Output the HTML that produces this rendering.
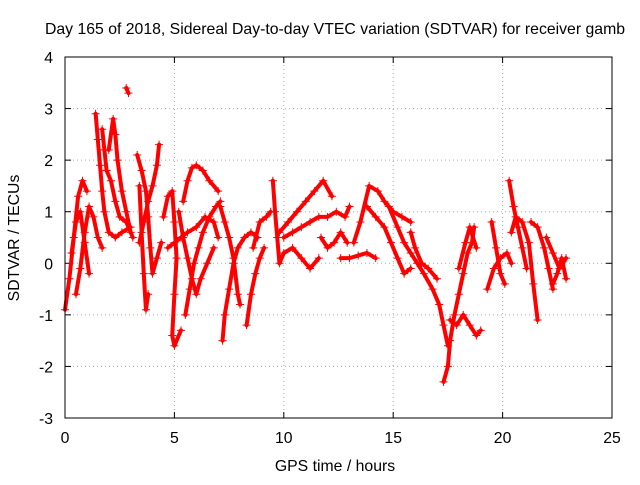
<!DOCTYPE html>
<html><head><meta charset="utf-8"><style>
body{margin:0;background:#fff;}
svg text{font-family:"Liberation Sans",sans-serif;font-size:15.8px;fill:#000;}
</style></head><body>
<svg width="640" height="480" xmlns="http://www.w3.org/2000/svg">
<rect width="640" height="480" fill="#fff"/>
<text x="335" y="34" text-anchor="middle">Day 165 of 2018, Sidereal Day-to-day VTEC variation (SDTVAR) for receiver gamb</text>
<g id="grid"></g><g id="ticks"></g><g id="marks"></g>
<rect x="65" y="57" width="547" height="361" fill="none" stroke="#000" stroke-width="1"/>
<text x="335" y="471" text-anchor="middle">GPS time / hours</text>
<text transform="translate(19,238) rotate(-90)" text-anchor="middle">SDTVAR / TECUs</text>
</svg>
<script>
const xTicks=[0,5,10,15,20,25];
const yTicks=[-3,-2,-1,0,1,2,3,4];
const tracks=[
[[0,-0.9],[0.2,-0.3],[0.4,0.5],[0.6,1.3],[0.8,1.6],[1.0,1.4]],
[[0.3,0.2],[0.5,0.8],[0.7,1.0],[0.9,0.4],[1.1,-0.2]],
[[0.5,-0.6],[0.7,-0.1],[0.9,0.6],[1.1,1.1],[1.3,0.9],[1.5,0.5],[1.7,0.3]],
[[1.4,2.9],[1.5,2.4],[1.6,1.9],[1.7,1.4],[1.8,1.0],[2.0,0.6],[2.3,0.5],[2.6,0.6],[3.0,0.7]],
[[1.7,2.6],[1.8,2.2],[1.9,1.8],[2.1,1.6],[2.3,1.2],[2.5,0.9],[2.8,0.8],[3.1,0.5]],
[[2.0,2.2],[2.2,2.8],[2.3,2.5],[2.4,2.0],[2.6,1.4],[2.8,1.0],[3.0,0.6]],
[[2.8,3.4],[2.9,3.3]],
[[3.3,2.1],[3.5,1.8],[3.7,1.4],[3.8,0.9],[3.9,0.3],[4.0,-0.2],[4.2,0.1],[4.4,0.4]],
[[3.4,1.5],[3.5,0.6],[3.6,-0.2],[3.7,-0.9],[3.8,-0.6]],
[[3.4,0.4],[3.6,0.8],[3.8,1.2],[4.0,1.5],[4.2,1.9],[4.3,2.3]],
[[4.5,0.9],[4.7,1.3],[4.9,1.4],[5.0,0.8],[5.1,0.1],[5.0,-0.6],[4.9,-1.4],[5.0,-1.6],[5.3,-1.3]],
[[4.7,0.3],[5.0,0.4],[5.3,0.5],[5.6,0.6],[6.0,0.7],[6.4,0.9],[6.8,0.8],[7.0,0.5]],
[[5.4,1.2],[5.6,1.6],[5.8,1.85],[6.0,1.9],[6.3,1.8],[6.6,1.6],[7.0,1.4]],
[[5.5,-1.0],[5.7,-0.5],[5.9,0.0],[6.1,0.3],[6.3,0.6],[6.6,0.9],[6.9,1.1],[7.1,1.2]],
[[5.2,1.0],[5.4,0.5],[5.6,0.1],[5.8,-0.3],[6.0,-0.6],[6.2,-0.3],[6.5,0.0],[6.8,0.3]],
[[7.2,-1.5],[7.3,-1.0],[7.5,-0.5],[7.7,0.0],[7.9,0.3],[8.2,0.5],[8.5,0.6],[8.8,0.5]],
[[7.1,1.1],[7.3,0.8],[7.5,0.5],[7.7,0.1],[7.9,-0.6],[8.0,-0.8]],
[[8.3,-1.2],[8.5,-0.6],[8.7,-0.2],[8.9,0.1],[9.1,0.3]],
[[8.6,0.3],[8.9,0.8],[9.2,0.9],[9.4,1.0]],
[[9.5,1.6],[9.6,1.0],[9.7,0.5],[9.8,0.0],[10.0,0.2],[10.4,0.3],[10.8,0.1],[11.2,-0.1],[11.6,0.1]],
[[9.8,0.6],[10.2,0.8],[10.6,1.0],[11.0,1.2],[11.4,1.4],[11.8,1.6],[12.2,1.3]],
[[10.0,0.5],[10.4,0.6],[10.8,0.7],[11.2,0.8],[11.6,0.9],[12.0,0.9],[12.4,1.0],[12.8,0.9],[13.0,1.1]],
[[11.7,0.5],[12.0,0.3],[12.3,0.4],[12.6,0.6],[12.9,0.4]],
[[12.6,0.1],[13.0,0.1],[13.4,0.15],[13.8,0.2],[14.2,0.1]],
[[13.2,0.4],[13.5,0.8],[13.9,1.5],[14.3,1.4],[14.6,1.2],[15.0,1.0],[15.4,0.9],[15.8,0.8]],
[[13.8,1.1],[14.2,0.9],[14.6,0.7],[14.9,0.4],[15.2,0.1],[15.5,-0.2],[15.8,-0.1]],
[[14.8,1.1],[15.2,0.7],[15.5,0.4],[15.8,0.2],[16.1,0.0],[16.4,-0.2],[16.8,-0.5],[17.1,-0.8],[17.3,-1.2],[17.5,-1.6]],
[[15.8,0.6],[16.0,0.3],[16.3,0.0],[16.6,-0.1],[17.0,-0.3]],
[[17.3,-2.3],[17.5,-2.0],[17.6,-1.5],[17.8,-1.0],[18.0,-0.6],[18.2,-0.2],[18.4,0.2],[18.6,0.4],[18.7,0.7]],
[[17.6,-1.1],[17.9,-1.2],[18.2,-1.0],[18.5,-1.2],[18.8,-1.4],[19.0,-1.3]],
[[18.0,-0.1],[18.3,0.4],[18.5,0.7],[18.8,0.3]],
[[19.3,-0.5],[19.6,-0.1],[19.9,0.1],[20.2,0.2],[20.4,0.0]],
[[19.5,0.8],[19.7,0.3],[19.9,-0.2],[20.1,-0.4]],
[[20.3,1.6],[20.5,1.1],[20.7,0.7],[20.9,0.3],[21.1,-0.1]],
[[20.4,0.6],[20.6,0.9],[20.9,0.8],[21.2,0.4],[21.4,-0.4],[21.6,-1.1]],
[[21.3,0.8],[21.6,0.7],[21.9,0.3],[22.1,-0.1],[22.3,-0.5]],
[[22.3,-0.4],[22.5,-0.2],[22.7,0.1],[22.9,-0.3]],
[[22.0,0.5],[22.3,0.2],[22.6,-0.1],[22.9,0.1]]
];
const NS="http://www.w3.org/2000/svg";
const X=v=>65+v*(547/25), Y=v=>418-(v+3)*(361/7);
function mk(t,a,p){const e=document.createElementNS(NS,t);for(const k in a)e.setAttribute(k,a[k]);p.appendChild(e);return e;}
const grid=document.getElementById('grid'),ticks=document.getElementById('ticks'),marks=document.getElementById('marks');
xTicks.forEach(v=>{const x=X(v);
 if(v>0&&v<25){const g=mk('line',{x1:x,x2:x,y1:57,y2:418,stroke:'#aaa','stroke-dasharray':'1,3'},grid);
 
 }
 mk('line',{x1:x,x2:x,y1:418,y2:412,stroke:'#000'},ticks);mk('line',{x1:x,x2:x,y1:57,y2:63,stroke:'#000'},ticks);
 const t=mk('text',{x:x,y:443,'text-anchor':'middle'},ticks);t.textContent=v;
 
 });
yTicks.forEach(v=>{const y=Y(v);
 if(v>-3&&v<4){const g=mk('line',{x1:65,x2:612,y1:y,y2:y,stroke:'#aaa','stroke-dasharray':'1,3'},grid);
 
 }
 mk('line',{x1:65,x2:71,y1:y,y2:y,stroke:'#000'},ticks);mk('line',{x1:606,x2:612,y1:y,y2:y,stroke:'#000'},ticks);
 const t=mk('text',{x:53,y:y+6,'text-anchor':'end'},ticks);t.textContent=v;
 
 });
tracks.forEach((tr,i)=>{
 const pl=mk('polyline',{points:tr.map(p=>X(p[0])+','+Y(p[1])).join(' '),fill:'none',stroke:'#f00','stroke-width':4,'stroke-linejoin':'round','stroke-linecap':'round'},marks);
 
 
 tr.forEach(p=>{const x=X(p[0]),y=Y(p[1]);
  const m=mk('path',{d:`M${x-4},${y}H${x+4}M${x},${y-4}V${y+4}`,stroke:'#f00','stroke-width':1},marks);
  
  });
});
</script>
</body></html>
